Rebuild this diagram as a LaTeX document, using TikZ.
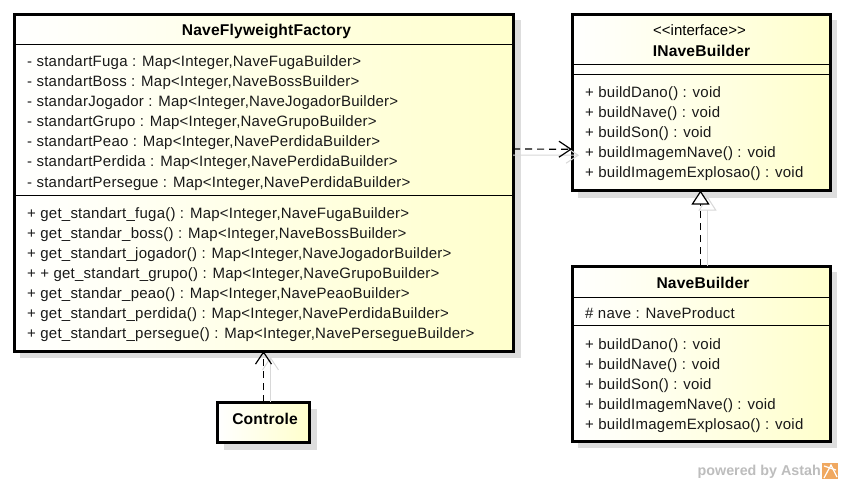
\documentclass[tikz,border=0pt]{standalone}
\usepackage{fontspec}
\setmainfont{Liberation Sans}
\usetikzlibrary{arrows.meta,calc}
\definecolor{umlyellow}{HTML}{FFFFCC}
\definecolor{shadowgray}{HTML}{DDDDDD}
\definecolor{ghostgray}{HTML}{D8D8D8}
\definecolor{logogray}{HTML}{BDBDBD}
\definecolor{logoorange}{HTML}{F0A860}
\tikzset{
  x=1pt,y=-1pt,
  umlbox/.style={draw=black,line width=3pt,rectangle,inner sep=0pt,outer sep=0pt,
    shade,shading angle=-135,left color=white,right color=umlyellow,
    minimum width=#1},
  umlshadow/.style={fill=shadowgray,draw=none},
  sepline/.style={draw=black,line width=1pt},
  memberline/.style={anchor=base west,inner sep=0pt,font=\fontsize{15}{16}\selectfont\addfontfeature{LetterSpace=1.6},text=black!90},
  titleline/.style={anchor=base,inner sep=0pt,font=\fontsize{15.6}{16}\selectfont\bfseries\addfontfeature{LetterSpace=1.2}},
  stereoline/.style={anchor=base,inner sep=0pt,font=\fontsize{15}{16}\selectfont},
  deparrow/.style={draw=black,line width=1.2pt,dash pattern=on 7pt off 5pt},
  ghostline/.style={draw=ghostgray,line width=1pt},
  opentip/.style={-{Straight Barb[length=12pt,width=16pt,line width=1.2pt]}},
  ghosttip/.style={-{Straight Barb[length=12pt,width=16pt,line width=1pt]}},
  realizetip/.style={-{Triangle[open,length=14pt,width=18pt,line width=1.2pt,fill=white]}},
  ghostrealize/.style={-{Triangle[open,length=14pt,width=18pt,line width=1pt,fill=white]}},
}
\begin{document}
\begin{tikzpicture}
\useasboundingbox (0,0) rectangle (842,482);
\fill[white] (0,0) rectangle (842,482);
% shadows
\fill[umlshadow] (20,20) rectangle (521,358);
\fill[umlshadow] (578,20) rectangle (837,198);
\fill[umlshadow] (578,272) rectangle (837,448);
\fill[umlshadow] (224,409) rectangle (317,450);
% boxes
\node[umlbox=499pt,minimum height=337pt] (factory) at (263.5,182.5) {};
\node[umlbox=258pt,minimum height=176.5pt] (iface) at (701,102.25) {};
\node[umlbox=258pt,minimum height=175pt] (builder) at (701,353.5) {};
\node[umlbox=92pt,minimum height=40pt] (controle) at (263.5,422) {};
% separators
\draw[sepline] (14,44) -- (513,44);
\draw[sepline] (14,195) -- (513,195);
\draw[sepline] (572,64) -- (830,64);
\draw[sepline] (572,74) -- (830,74);
\draw[sepline] (572,297) -- (830,297);
\draw[sepline] (572,325) -- (830,325);
% connectors
\draw[ghostline,ghosttip] ([yshift=27.5pt]factory.east) -- ([yshift=-53pt,xshift=7pt]iface.west);
\draw[ghostline,ghosttip] ([xshift=7pt]controle.north) -- ([xshift=7pt,yshift=-6pt]factory.south);
\draw[ghostline,ghostrealize] ([xshift=6.5pt]builder.north) -- ([xshift=6.5pt,yshift=-6pt]iface.south);
\draw[deparrow,opentip] ([yshift=33.5pt]factory.east) -- ([yshift=-47pt]iface.west);
\draw[deparrow,opentip] (controle.north) -- (factory.south);
\draw[deparrow,realizetip] ([xshift=-0.5pt]builder.north) -- ([xshift=-0.5pt]iface.south);
% factory text
\node[titleline] (t1) at (266.5,35) {NaveFlyweightFactory};
\node[memberline] (a1) at (27,66) {- standartFuga : Map<Integer,NaveFugaBuilder>};
\node[memberline] (a2) at (27,86) {- standartBoss : Map<Integer,NaveBossBuilder>};
\node[memberline] (a3) at (27,106) {- standarJogador : Map<Integer,NaveJogadorBuilder>};
\node[memberline] (a4) at (27,126) {- standartGrupo : Map<Integer,NaveGrupoBuilder>};
\node[memberline] (a5) at (27,146) {- standartPeao : Map<Integer,NavePerdidaBuilder>};
\node[memberline] (a6) at (27,166) {- standartPerdida : Map<Integer,NavePerdidaBuilder>};
\node[memberline] (a7) at (27,187) {- standartPersegue : Map<Integer,NavePerdidaBuilder>};
\node[memberline] (o1) at (27,218) {+ get\_standart\_fuga() : Map<Integer,NaveFugaBuilder>};
\node[memberline] (o2) at (27,238) {+ get\_standar\_boss() : Map<Integer,NaveBossBuilder>};
\node[memberline] (o3) at (27,258) {+ get\_standart\_jogador() : Map<Integer,NaveJogadorBuilder>};
\node[memberline] (o4) at (27,278) {+ + get\_standart\_grupo() : Map<Integer,NaveGrupoBuilder>};
\node[memberline] (o5) at (27,298) {+ get\_standar\_peao() : Map<Integer,NavePeaoBuilder>};
\node[memberline] (o6) at (27,318) {+ get\_standart\_perdida() : Map<Integer,NavePerdidaBuilder>};
\node[memberline] (o7) at (27,338) {+ get\_standart\_persegue() : Map<Integer,NavePersegueBuilder>};
% interface text
\node[stereoline] (s1) at (699.5,35) {<{}<interface>{}>};
\node[titleline] (t2) at (701.5,56) {INaveBuilder};
\node[memberline] (i1) at (585,97) {+ buildDano() : void};
\node[memberline] (i2) at (585,117) {+ buildNave() : void};
\node[memberline] (i3) at (585,137) {+ buildSon() : void};
\node[memberline] (i4) at (585,157) {+ buildImagemNave() : void};
\node[memberline] (i5) at (585,177) {+ buildImagemExplosao() : void};
% builder text
\node[titleline] (t3) at (703,288) {NaveBuilder};
\node[memberline] (b0) at (585,318) {\# nave : NaveProduct};
\node[memberline] (b1) at (585,349) {+ buildDano() : void};
\node[memberline] (b2) at (585,369) {+ buildNave() : void};
\node[memberline] (b3) at (585,389) {+ buildSon() : void};
\node[memberline] (b4) at (585,409) {+ buildImagemNave() : void};
\node[memberline] (b5) at (585,429) {+ buildImagemExplosao() : void};
% controle
\node[titleline] (t4) at (265,424) {Controle};
% logo
\node[anchor=base east,inner sep=0pt,font=\fontsize{14.3}{16}\selectfont\bfseries,text=logogray] (logo) at (821,475) {powered by Astah};
\fill[logoorange] (822,463) rectangle (838,479);
\draw[white,line width=1.2pt] (824,478) -- (831,465) -- (837,477);
\draw[white,line width=1.2pt] (824,466) -- (836,470);
\end{tikzpicture}
\end{document}
